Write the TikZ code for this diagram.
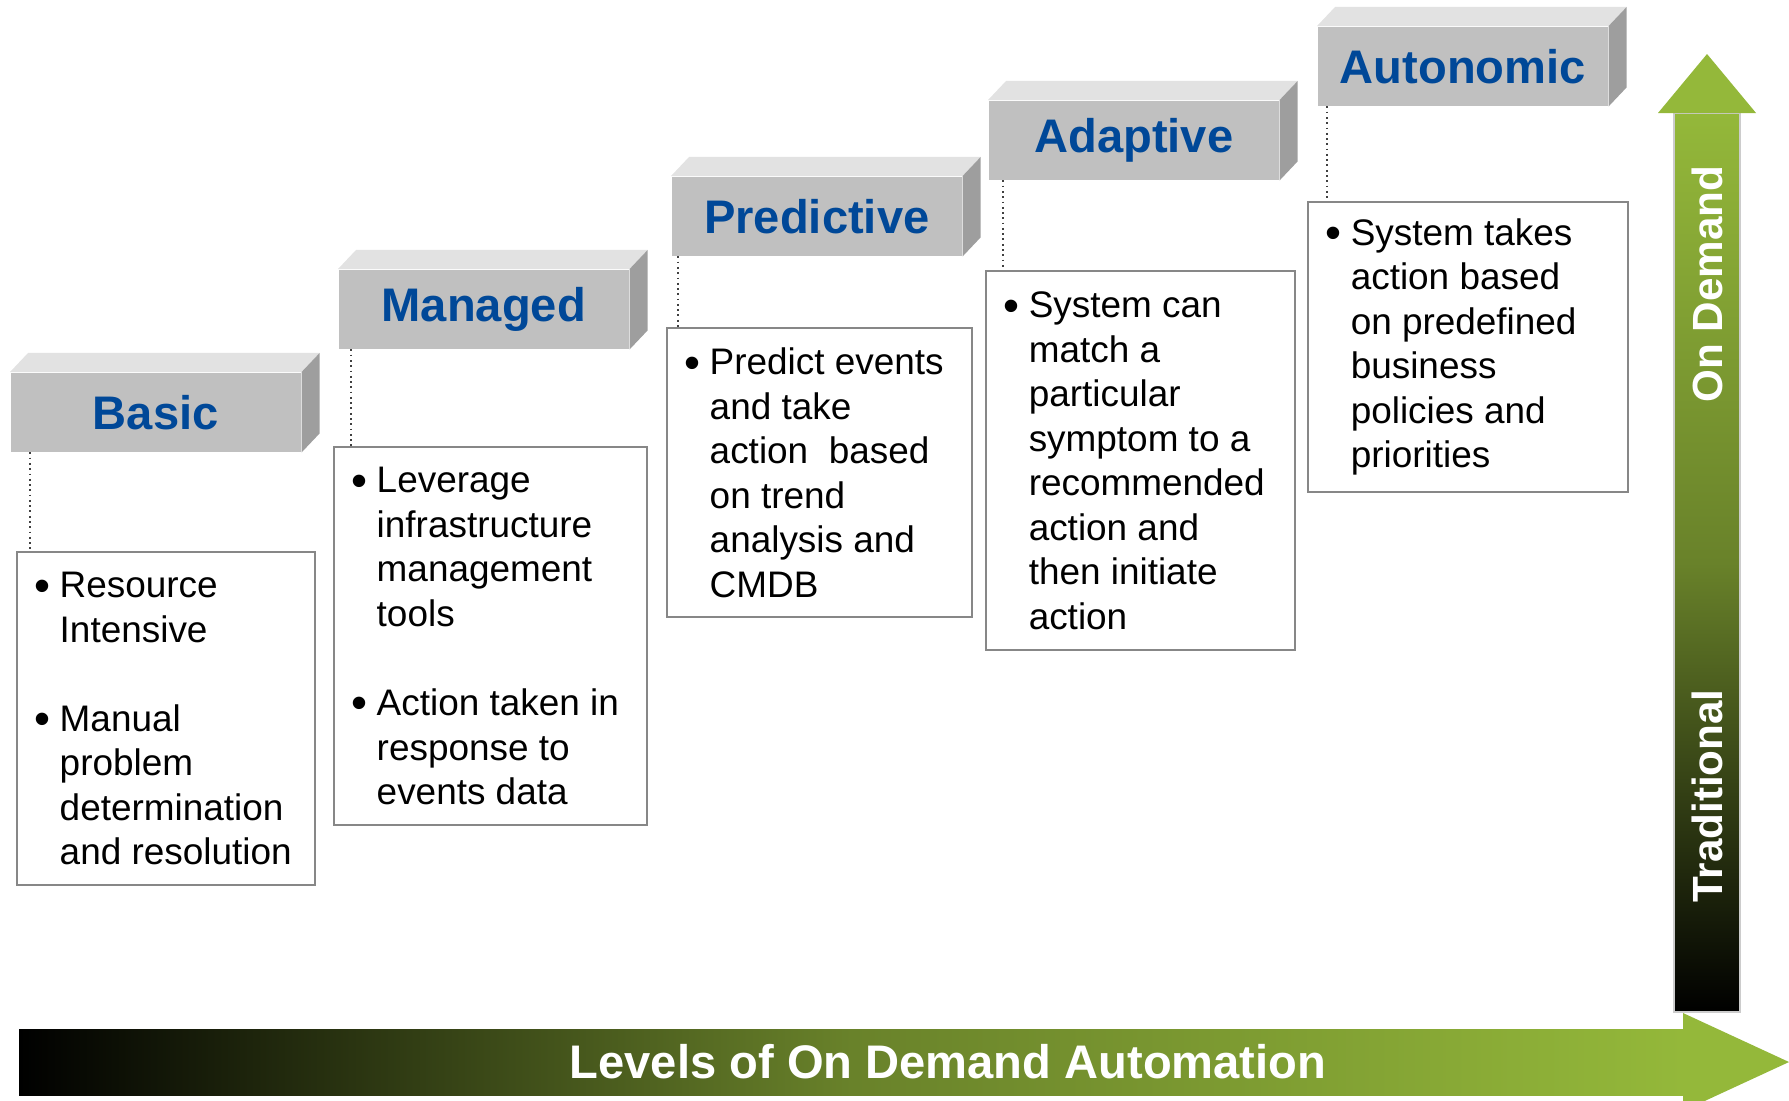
\documentclass[tikz,border=0pt]{standalone}
\usepackage{fontspec}
\setmainfont{Liberation Sans}

\definecolor{odgreen}{RGB}{148,184,58}
\definecolor{odmid}{RGB}{105,130,42}
\definecolor{titleblue}{RGB}{0,72,152}
\definecolor{faceGray}{RGB}{192,192,192}
\definecolor{topGray}{RGB}{226,226,226}
\definecolor{sideGray}{RGB}{158,158,158}
\definecolor{boxGray}{RGB}{135,135,135}

% bullet and hanging indent for the description lines
\newcommand{\bulpt}{\makebox[0.24cm][l]{\hspace{-0.01cm}\raisebox{-1pt}{\fontsize{13}{13}\selectfont\textbullet}}}
\newcommand{\bulgap}{\hspace*{0.24cm}}

\tikzset{
  stepface/.style={fill=faceGray, anchor=north west, inner sep=0pt,
    minimum width=2.9cm, minimum height=0.79cm, text=titleblue,
    font=\fontsize{13.4}{16}\selectfont\bfseries},
  descbox/.style={draw=boxGray, line width=0.6pt, anchor=north west, inner sep=0pt},
  desctext/.style={anchor=west, inner sep=0pt, align=left,
    font=\fontsize{10.5}{12.66}\selectfont},
  leader/.style={densely dotted, line width=0.5pt, black!75},
  arrowtext/.style={text=white, inner sep=0pt,
    font=\fontsize{13.4}{16}\selectfont\bfseries},
}

\begin{document}
\begin{tikzpicture}[x=0.01cm, y=-0.01cm]
  \useasboundingbox (0,0) rectangle (1789,1100);

  % the five steps
  \node[stepface] (basic)      at (10,372)  {Basic};
  \node[stepface] (managed)    at (338,269) {Managed};
  \node[stepface] (predictive) at (671,176) {Predictive};
  \node[stepface] (adaptive)   at (988,100) {Adaptive};
  \node[stepface] (autonomic)  at (1317,26) {Autonomic};

  \foreach \n in {basic,managed,predictive,adaptive,autonomic}{
    \fill[topGray] (\n.north west) -- ++(0.18cm,0.19cm)
      -- ([shift={(0.18cm,0.19cm)}]\n.north east) -- (\n.north east) -- cycle;
    \fill[sideGray] (\n.north east) -- ++(0.18cm,0.19cm)
      -- ([shift={(0.18cm,0.19cm)}]\n.south east) -- (\n.south east) -- cycle;
  }

  % description boxes
  \node[descbox, minimum width=2.98cm, minimum height=3.33cm] (box-basic)      at (16,551)   {};
  \node[descbox, minimum width=3.13cm, minimum height=3.78cm] (box-managed)    at (333,446)  {};
  \node[descbox, minimum width=3.05cm, minimum height=2.89cm] (box-predictive) at (666,327)  {};
  \node[descbox, minimum width=3.09cm, minimum height=3.79cm] (box-adaptive)   at (985,270)  {};
  \node[descbox, minimum width=3.20cm, minimum height=2.90cm] (box-autonomic)  at (1307,201) {};

  \node[desctext] (txt-basic) at ([xshift=0.19cm]box-basic.west)
    {\bulpt Resource\\ \bulgap Intensive\\[12.66pt]
     \bulpt Manual\\ \bulgap problem\\ \bulgap determination\\ \bulgap and resolution};
  \node[desctext] (txt-managed) at ([xshift=0.19cm]box-managed.west)
    {\bulpt Leverage\\ \bulgap infrastructure\\ \bulgap management\\ \bulgap tools\\[12.66pt]
     \bulpt Action taken in\\ \bulgap response to\\ \bulgap events data};
  \node[desctext] (txt-predictive) at ([xshift=0.19cm]box-predictive.west)
    {\bulpt Predict events\\ \bulgap and take\\ \bulgap action~ based\\ \bulgap on trend\\
     \bulgap analysis and\\ \bulgap CMDB};
  \node[desctext] (txt-adaptive) at ([xshift=0.19cm]box-adaptive.west)
    {\bulpt System can\\ \bulgap match a\\ \bulgap particular\\ \bulgap symptom to a\\
     \bulgap recommended\\ \bulgap action and\\ \bulgap then initiate\\ \bulgap action};
  \node[desctext] (txt-autonomic) at ([xshift=0.19cm]box-autonomic.west)
    {\bulpt System takes\\ \bulgap action based\\ \bulgap on predefined\\ \bulgap business\\
     \bulgap policies and\\ \bulgap priorities};

  % dotted leaders from step to box
  \foreach \n/\dx in {basic/0.20,managed/0.13,predictive/0.07,adaptive/0.15,autonomic/0.10}
    \draw[leader] ([xshift=\dx cm]\n.south west) -- ([xshift=\dx cm]\n.south west |- box-\n.north);

  % horizontal arrow
  \shade[left color=black, right color=odgreen, middle color=odmid] (19,1029) rectangle (1684,1095);
  \fill[odgreen] (1683,1013) -- (1789,1062) -- (1683,1111) -- cycle;
  \node[arrowtext] (levels) at (948,1062) {Levels of On Demand Automation};

  % vertical arrow
  \shade[top color=odgreen, bottom color=black, middle color=odmid] (1674,113) rectangle (1740,1012);
  \draw[black!20, line width=0.4pt] (1674,113) rectangle (1740,1012);
  \fill[odgreen] (1658,113) -- (1707,54) -- (1756,113) -- cycle;
  \node[arrowtext, rotate=90, font=\fontsize{12}{14}\selectfont\bfseries] (ondemand) at (1707,284) {On Demand};
  \node[arrowtext, rotate=90, font=\fontsize{12}{14}\selectfont\bfseries] (traditional) at (1707,796) {Traditional};
\end{tikzpicture}
\end{document}
